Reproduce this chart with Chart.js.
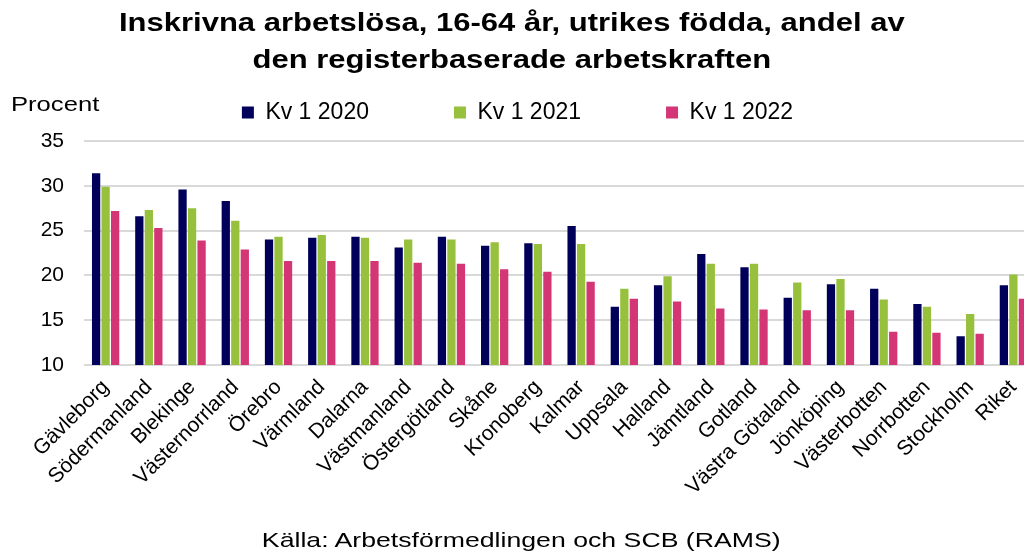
<!DOCTYPE html>
<html>
<head>
<meta charset="utf-8">
<script src="https://cdn.jsdelivr.net/npm/chart.js@4/dist/chart.umd.min.js"></script>
<style>
html,body{margin:0;padding:0;background:#fff;overflow:hidden;width:1024px;height:553px;}
#wrap{position:relative;width:1024px;height:553px;overflow:hidden;font-family:"Liberation Sans",Arial,sans-serif;color:#000;}
.stretch{display:inline-block;transform-origin:center top;}
#title{position:absolute;left:0;top:4px;width:1024px;text-align:center;font-weight:bold;font-size:25px;line-height:37px;}
#title .stretch{transform:scaleX(1.24);}
#unit{position:absolute;left:11px;top:92px;font-size:21px;transform:scaleX(1.22);transform-origin:left top;}
#source{position:absolute;left:9px;top:528px;width:1024px;text-align:center;font-size:21px;}
#source .stretch{transform:scaleX(1.27);}
canvas{position:absolute;left:0;top:0;}
</style>
</head>
<body>
<div id="wrap">
<canvas id="barChart" width="1040" height="553"></canvas>
<div id="title"><span class="stretch">Inskrivna arbetslösa, 16-64 år, utrikes födda, andel av<br>den registerbaserade arbetskraften</span></div>
<div id="unit">Procent</div>
<div id="source"><span class="stretch">Källa: Arbetsförmedlingen och SCB (RAMS)</span></div>
</div>
<script>
// län
var regions=['Gävleborg','Södermanland','Blekinge','Västernorrland','Örebro','Värmland','Dalarna','Västmanland','Östergötland','Skåne','Kronoberg','Kalmar','Uppsala','Halland','Jämtland','Gotland','Västra Götaland','Jönköping','Västerbotten','Norrbotten','Stockholm','Riket'];
var seriesNames=['Kv 1 2020','Kv 1 2021','Kv 1 2022'];
var kv2020=[31.4,26.6,29.6,28.3,24.0,24.2,24.3,23.1,24.3,23.3,23.6,25.5,16.5,18.9,22.4,20.9,17.5,19.0,18.5,16.8,13.2,18.9];
var kv2021=[29.9,27.3,27.5,26.1,24.3,24.5,24.2,24.0,24.0,23.7,23.5,23.5,18.5,19.9,21.3,21.3,19.2,19.6,17.3,16.5,15.7,20.1];
var kv2022=[27.2,25.3,23.9,22.9,21.6,21.6,21.6,21.4,21.3,20.7,20.4,19.3,17.4,17.1,16.3,16.2,16.1,16.1,13.7,13.6,13.5,17.4];
var yTicks=[10,15,20,25,30,35];
var colors=['#00005a','#97c13d','#d43574'];

var ctx=document.getElementById('barChart').getContext('2d');
var allData=[kv2020,kv2021,kv2022];
var datasets=[];
for(var i=0;i<seriesNames.length;i++){
	datasets.push({
		label:seriesNames[i],
		data:allData[i],
		backgroundColor:colors[i],
		borderWidth:0,
		categoryPercentage:0.66,
		barPercentage:0.87
	});
}
//legend höjd, lite luft under
var legendGap={
	id:'legendGap',
	beforeInit:function(chart){
		var origFit=chart.legend.fit;
		chart.legend.fit=function(){
			origFit.bind(chart.legend)();
			this.height+=7;
		};
	}
};
var barChart=new Chart(ctx,{
	type:'bar',
	data:{labels:regions,datasets:datasets},
	plugins:[legendGap],
	options:{
		responsive:false,
		animation:false,
		layout:{padding:{top:16,right:5,left:0,bottom:0}},
		plugins:{
			legend:{
				position:'top',
				labels:{boxWidth:12,boxHeight:12,padding:85,color:'#000',font:{family:'Liberation Sans',size:23}}
			},
			tooltip:{enabled:false}
		},
		scales:{
			x:{
				grid:{display:false},
				border:{display:false},
				ticks:{minRotation:45,maxRotation:45,autoSkip:false,padding:2,color:'#000',font:{family:'Liberation Sans',size:21}},
				afterFit:function(scale){scale.height=188;}
			},
			y:{
				min:10,max:35,
				afterBuildTicks:function(scale){scale.ticks=yTicks.map(function(v){return {value:v};});},
				grid:{color:'#d9d9d9',lineWidth:2,drawTicks:false},
				border:{display:false},
				ticks:{padding:20,color:'#000',font:{family:'Liberation Sans',size:21}},
				afterFit:function(scale){scale.width=84;}
			}
		}
	}
});
</script>
</body>
</html>
